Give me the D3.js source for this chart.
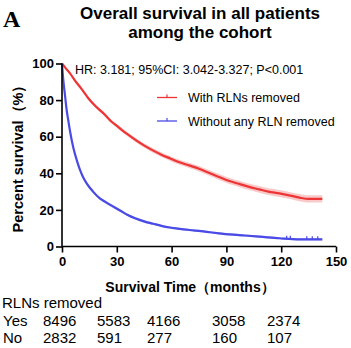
<!DOCTYPE html>
<html><head><meta charset="utf-8">
<script src="https://cdn.jsdelivr.net/npm/d3@7"></script>
<style>
html,body{margin:0;padding:0;background:#fff;}
svg{display:block;}
</style></head>
<body>
<script>
// ---- data ----
const groups = ["With RLNs removed", "Without any RLN removed"];
const redTime = [0, 2, 4.4, 8, 9.8, 11, 14.4, 18, 23.5, 27, 30, 33, 36.2, 40, 45.3, 50, 54.4, 59, 63.5, 70, 75, 81, 86, 91.6, 97, 102, 108, 113, 119, 125, 130, 135, 142.5];
const redSurv = [100, 97.5, 94.6, 89.5, 87.3, 85.7, 81, 77, 72, 68.3, 65.9, 63.5, 61.1, 58.4, 55, 52.4, 50.2, 48.2, 46.3, 44.2, 42.5, 40, 38, 35.8, 34.2, 32.7, 31.2, 30, 29, 27.8, 26.7, 26, 26];
const redCI   = [0, 0.4, 0.5, 0.6, 0.6, 0.7, 0.8, 0.9, 1, 1, 1, 1.1, 1.1, 1.2, 1.2, 1.3, 1.3, 1.3, 1.4, 1.4, 1.5, 1.5, 1.6, 1.6, 1.7, 1.7, 1.8, 1.8, 1.9, 1.9, 2, 2, 2];
const blueTime = [0, 0.7, 1.6, 2.5, 3.5, 4.4, 6.2, 8, 9.8, 11.5, 13.5, 17, 20.7, 23.5, 28.9, 32, 36, 40, 45.3, 50, 54.4, 59, 63.3, 70, 76.2, 81, 86, 91.6, 100, 108, 119, 130, 142.5];
const blueSurv = [100, 91, 83, 75, 68.5, 63, 54, 47.5, 42, 38, 34.5, 30, 26.3, 24.5, 21.3, 19.5, 17.2, 15.4, 13.6, 12.4, 11.3, 10.4, 9.8, 9, 8.4, 7.8, 7.2, 6.6, 6, 5.4, 4.5, 3.9, 3.9];
const blueCI   = [0, 0.6, 0.8, 0.9, 1, 1, 1, 1, 0.9, 0.9, 0.9, 0.8, 0.8, 0.8, 0.8, 0.7, 0.7, 0.7, 0.7, 0.6, 0.6, 0.6, 0.6, 0.6, 0.6, 0.6, 0.6, 0.6, 0.6, 0.6, 0.6, 0.6, 0.6];
const blueCensor = [123, 125, 134, 137, 140];
const xTicks = [0, 30, 60, 90, 120, 150];
const yTicks = [0, 20, 40, 60, 80, 100];
const riskLabels = ["Yes", "No"];
const riskYes = [8496, 5583, 4166, 3058, 2374];
const riskNo  = [2832, 591, 277, 160, 107];
const hrText = "HR: 3.181; 95%CI: 3.042-3.327; P<0.001";

// ---- layout ----
const W = 351, H = 348;
const svg = d3.select("body").append("svg").attr("width", W).attr("height", H)
  .style("font-family", "Arial, 'Liberation Sans', sans-serif");
const x = d3.scaleLinear().domain([0, 150]).range([62, 336]);
const y = d3.scaleLinear().domain([0, 100]).range([246.5, 63.5]);
const red = "#ee3535", blue = "#4a4ae6";

// title
svg.append("text").attr("x", 3).attr("y", 27).text("A")
  .style("font-family", "'Liberation Serif', 'Times New Roman', serif")
  .style("font-weight", "bold").style("font-size", "24px");
svg.append("text").attr("x", 200).attr("y", 18.5).attr("text-anchor", "middle")
  .style("font-weight", "bold").style("font-size", "17px").text("Overall survival in all patients");
svg.append("text").attr("x", 200).attr("y", 37.5).attr("text-anchor", "middle")
  .style("font-weight", "bold").style("font-size", "17px").text("among the cohort");

// series
function series(time, surv, ci, color, band) {
  const pts = time.map((t, i) => ({t, s: surv[i], c: ci[i]}));
  const area = d3.area().x(d => x(d.t)).y0(d => y(d.s - d.c)).y1(d => y(d.s + d.c)).curve(d3.curveMonotoneX);
  svg.append("path").datum(pts).attr("d", area).attr("fill", band).attr("stroke", "none");
  const line = d3.line().x(d => x(d.t)).y(d => y(d.s)).curve(d3.curveMonotoneX);
  svg.append("path").datum(pts).attr("d", line).attr("fill", "none")
    .attr("stroke", color).attr("stroke-width", 2.2);
}
series(redTime, redSurv, redCI, red, "#f9c9c9");
series(blueTime, blueSurv, blueCI, blue, "#c9c9f5");

// censor marks on blue tail
const blueAt = t => d3.scaleLinear().domain(blueTime).range(blueSurv)(t);
svg.selectAll(".cens").data(blueCensor).enter().append("line")
  .attr("x1", d => x(d)).attr("x2", d => x(d))
  .attr("y1", d => y(blueAt(d)) - 3).attr("y2", d => y(blueAt(d)))
  .attr("stroke", blue).attr("stroke-width", 1.2);

// axes
const xAxis = svg.append("g").attr("transform", `translate(0,${y(0)})`)
  .call(d3.axisBottom(x).tickValues(xTicks).tickSize(6).tickPadding(4));
const yAxis = svg.append("g").attr("transform", `translate(${x(0)},0)`)
  .call(d3.axisLeft(y).tickValues(yTicks).tickSize(6).tickPadding(2));
[xAxis, yAxis].forEach(g => {
  g.select(".domain").attr("stroke", "#000").attr("stroke-width", 1.6);
  g.selectAll(".tick line").attr("stroke", "#000").attr("stroke-width", 1.6);
  g.selectAll(".tick text").attr("fill", "#000").style("font-weight", "bold")
    .style("font-size", "13px").style("font-family", "Arial, 'Liberation Sans', sans-serif");
});
xAxis.select(".domain").attr("d", `M${x(0)},0H${x(150)}`);
yAxis.select(".domain").attr("d", `M0,${y(0)}V${y(100)}`);

// axis titles
svg.append("text").attr("x", 190).attr("y", 292).attr("text-anchor", "middle")
  .style("font-weight", "bold").style("font-size", "14px").text("Survival Time（months）");
svg.append("text").attr("transform", "translate(23,155) rotate(-90)").attr("text-anchor", "middle")
  .style("font-weight", "bold").style("font-size", "14.5px").text("Percent survival（%）");

// HR text
svg.append("text").attr("x", 75).attr("y", 74).style("font-size", "12.5px").text(hrText);

// legend
const legColors = [red, blue];
groups.forEach((g, i) => {
  const ly = 97.5 + i * 23.5;
  svg.append("line").attr("x1", 157).attr("x2", 177).attr("y1", ly).attr("y2", ly)
    .attr("stroke", legColors[i]).attr("stroke-width", 1.3);
  svg.append("line").attr("x1", 167).attr("x2", 167).attr("y1", ly - 3).attr("y2", ly)
    .attr("stroke", legColors[i]).attr("stroke-width", 1.2);
  svg.append("text").attr("x", 188).attr("y", ly + 4.5).style("font-size", "12.5px").text(g);
});

// risk table
const riskColX = [43, 97, 147, 212, 267];
svg.append("text").attr("x", 2).attr("y", 308).style("font-size", "15px").text("RLNs removed");
[riskYes, riskNo].forEach((row, r) => {
  const ry = 326 + r * 16.5;
  svg.append("text").attr("x", 3).attr("y", ry).style("font-size", "15px").text(riskLabels[r]);
  row.forEach((v, i) => {
    svg.append("text").attr("x", riskColX[i]).attr("y", ry).style("font-size", "15px").text(v);
  });
});
</script>
</body></html>
